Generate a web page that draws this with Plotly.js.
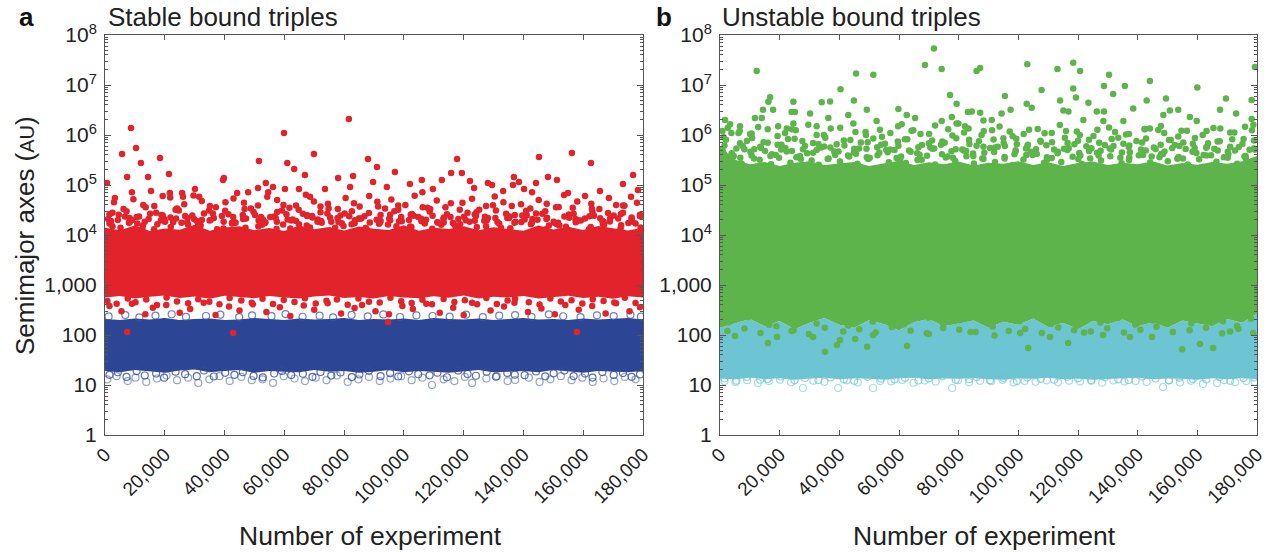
<!DOCTYPE html>
<html><head><meta charset="utf-8">
<script src="https://cdn.plot.ly/plotly-3.0.1.min.js"></script>
<style>html,body{margin:0;padding:0;background:#fff}#chart{width:1280px;height:554px}</style>
</head><body><div id="chart"></div>
<script>
// ---------- axis labels ----------
const xTickVals = [0,20000,40000,60000,80000,100000,120000,140000,160000,180000];
const xTickText = ['0','20,000','40,000','60,000','80,000','100,000','120,000','140,000','160,000','180,000'];
const yTickVals = [1,10,100,1000,1e4,1e5,1e6,1e7,1e8];
const yTickText = ['1','10','100','1,000','10<sup>4</sup>','10<sup>5</sup>','10<sup>6</sup>','10<sup>7</sup>','10<sup>8</sup>'];

// ---------- band edges (experiment number grid) ----------
const gridX = [0,5000,10000,15000,20000,25000,30000,35000,40000,45000,50000,55000,60000,65000,70000,75000,80000,85000,90000,95000,100000,105000,110000,115000,120000,125000,130000,135000,140000,145000,150000,155000,160000,165000,170000,175000,180000];
// panel a
const redUpper = [14000,12500,15500,12000,13500,12800,16000,12200,14200,15000,12400,13800,12000,15400,13000,14500,12300,14800,13400,12600,15600,12100,14000,13200,15000,12500,14300,13300,12200,15500,12900,14600,12600,15200,13700,12300,14000];
const redLower = [560,600,540,580,620,550,590,530,610,570,545,600,560,535,590,615,550,575,540,605,565,545,595,555,620,535,580,560,600,540,575,610,550,585,530,595,565];
const blueUpper = [210,200,215,205,220,200,210,215,200,205,220,210,200,215,205,210,220,200,210,205,215,200,220,210,205,215,200,210,220,205,210,200,215,205,210,220,205];
const blueLower = [19,18,20,18.5,17.5,19.5,20.5,18,19,20,17.5,19,18.5,18,20,18.5,19,17.5,18.5,20,18,19,18.5,17.5,19,20,18,18.5,19,18,20,18.5,17.5,19,18.5,18,19];
// panel b
const greenUpper = [600000,320000,260000,290000,240000,280000,300000,250000,270000,290000,240000,275000,305000,250000,285000,260000,295000,245000,280000,265000,300000,250000,285000,240000,275000,295000,250000,280000,260000,300000,245000,275000,255000,290000,265000,300000,380000];
const greenLower = [140,170,210,150,190,130,175,220,160,140,200,165,125,180,210,150,170,195,140,185,160,215,145,175,130,190,165,205,150,180,140,195,170,150,210,175,270];
const cyanLower = [13.5,13,14,13.2,13.6,12.8,13.5,14,13,13.6,13.3,12.8,13.6,14,13.1,13.5,13.3,13.8,13,12.8,13.6,13.3,14,13,13.5,12.8,13.3,13.6,14,13.1,13.5,13.3,12.8,13.6,13,13.8,13.2];

// ---------- individual points: stable (panel a) ----------
const redSparseX = [8700,5700,10400,12000,7400,18400,14400,21400,700,9000,15400,3300,21700,25800,26100,30100,31500,39500,39800,44200,47900,51200,51500,53800,54600,56200,59900,60200,61000,63300,69900,66900,64900,68600,73600,81600,88000,91000,83000,78000,82000,89700,97000,94300,102000,106000,106200,112700,109700,117800,115800,119400,122100,123500,128100,129500,133200,136800,136500,138500,140200,142900,144200,145200,148200,151200,156200,162600,165600,173300,176700,178300,154900,160600];
const redSparseY = [1380000,417000,550000,275000,145000,347000,145000,166000,110000,72000,76000,55000,69000,69000,58000,83000,58000,126000,138000,69000,72000,87000,302000,110000,72000,91000,1100000,83000,275000,209000,417000,158000,83000,58000,83000,2090000,331000,229000,151000,138000,91000,115000,182000,91000,105000,126000,72000,126000,83000,331000,174000,174000,120000,87000,110000,100000,76000,145000,100000,115000,83000,72000,110000,363000,145000,126000,437000,275000,76000,105000,158000,79000,69000,60000];
const redMidX = [3000,9500,16500,21800,26500,32400,37100,43000,46500,51200,57600,61700,69900,74600,80500,85200,91100,95800,100500,106300,111000,115700,122800,127500,133300,139200,145100,150900,158000,162700,168600,173300,178000];
const redMidY = [45000,52000,38000,56000,41000,48000,36000,54000,44000,39000,50000,35000,47000,42000,55000,37000,46000,51000,40000,36000,49000,43000,53000,38000,45000,41000,50000,36000,47000,42000,55000,39000,44000];
const redMid2X = [6200,12800,19300,24100,29600,34800,40300,48800,54300,59700,64800,67200,72100,77900,83300,88400,93700,98100,103600,108800,113900,119600,125200,130400,136100,142300,147800,153600,156500,165400,171000,176000];
const redMid2Y = [33000,40000,60000,34000,62000,31000,45000,34000,58000,40000,32000,64000,37000,33000,43000,60000,34000,39000,61000,33000,36000,44000,32000,59000,38000,34000,42000,63000,35000,33000,40000,58000];
const redDenseX = [1500,4300,7200,10600,13300,17100,19800,23600,26800,30700,33100,36400,40200,43300,46100,49700,52800,56600,59200,62300,66200,69400,72100,75700,78800,82600,85100,88300,92200,95400,98100,101700,104800,108600,111200,114400,118200,121300,124100,127700,130800,134600,137100,140400,144200,147300,150100,153700,156800,160600,163100,166400,170200,173300,176200,179000];
const redDenseY = [26000,20000,30000,23000,18500,28000,21000,32000,24000,19000,27000,22000,30500,18000,25000,29000,20500,23500,31000,19500,26500,22500,28500,18500,24500,30000,21500,27500,19000,25500,32000,20000,23000,29500,18000,26000,21000,28000,24000,19500,31000,22000,25000,20500,27000,30000,18500,23500,26500,21500,29000,19000,24500,28000,22500,25500];
const redEdgeX = [2500,8000,12500,17500,22000,27500,32000,37500,42500,47000,52500,57500,62000,67500,72500,77000,82500,87500,92000,97500,102500,107000,112500,117500,122000,127500,132500,137000,142500,147500,152000,157500,162500,167000,172500,177500];
const redEdgeY = [15000,17500,13500,16500,14500,18000,15500,13000,17000,14000,16000,18500,13500,15500,17500,14000,16500,13000,18000,15000,14500,17000,16000,13500,18500,15000,14000,17500,16500,13000,15500,18000,14500,16000,13500,17000];
const redRim1X = [1000,4600,8200,11400,15100,18700,21900,25600,29200,32400,36100,39700,42900,46600,50200,53400,57100,60700,63900,67600,71200,74400,78100,81700,84900,88600,92200,95400,99100,102700,105900,109600,113200,116400,120100,123700,126900,130600,134200,137400,141100,144700,147900,151600,155200,158400,162100,165700,168900,172600,176200,179400];
const redRim1Y = [21000,25500,18000,23500,26500,19500,22500,17500,24500,20000,27000,18500,23000,21500,25000,17200,22000,26000,19000,24000,20500,26800,18200,23800,21200,17800,25200,19800,22800,26200,18800,24200,20800,17400,23200,25800,19200,21800,26600,18400,24800,20200,22200,17600,25600,19600,23600,21600,18600,26400,20600,24600];
const redRim2X = [2000,6700,10800,14600,19300,22800,27600,31200,35300,39100,43700,47200,51400,55300,59600,62800,67700,71100,75300,79200,83600,86800,91700,95100,99300,103200,107400,111300,115600,118800,123700,127100,131300,135200,139600,142800,147700,151100,155300,159200,163600,166800,171700,175100,179000];
const redRim2Y = [19000,23500,17000,21000,24500,18000,22000,16500,20000,24000,17500,21500,19500,23000,16200,20500,24800,18500,22500,17200,19800,23800,16800,21200,18800,24200,20200,17800,22800,16400,19200,23200,18200,21800,24600,17600,20800,16600,22200,19600,24400,18400,21400,17400,23600];
const redRim3X = [2500,8200,13600,18900,24700,29800,35100,41300,46700,52200,57600,63900,69300,74800,80200,85700,91400,96800,102300,107900,113400,118700,124300,129800,135400,140900,146300,151800,157400,162900,168300,173800];
const redRim3Y = [28000,22000,36000,25000,31000,21000,38000,26000,33000,23000,29000,39000,24000,34000,27000,21500,37000,30000,25500,35000,22500,32000,28500,39500,23500,30500,26500,36500,21000,33500,27500,38500];
const redRim4X = [1500,5200,9100,12700,16400,20100,23800,27800,31300,35000,39600,42500,46200,51300,53700,57400,61100,64900,68600,72300,77800,79800,83500,87200,90900,94700,98400,102100,105800,109500,113300,117000,120700,124400,128100,131900,135600,139300,143000,148500,150500,154200,157900,161900,166600,169000,172700,176400,179200];
const redRim4Y = [17000,14000,20000,15500,13000,18500,21500,16000,14500,19500,13500,17500,21000,15000,18000,13200,20500,16500,14200,19000,22000,15200,17200,13800,20200,16200,18800,14800,21200,13400,17800,15800,19800,14400,21800,16800,13600,18200,20800,15400,17400,14600,19200,13100,16400,21400,15600,18600,14100];
const redFootX = [800,3900,7600,10200,13800,17400,20600,24100,27800,31200,34900,38300,41700,45600,49100,52700,56200,59800,63400,66900,70500,74100,77600,81200,84800,88300,91900,95500,99100,102600,106200,109400,113300,116900,120400,122800,127600,131100,134700,137200,141800,145400,149000,152500,156100,159700,163200,166800,170400,173900,177500];
const redFootY = [480,420,540,450,510,400,560,470,430,520,460,410,550,490,440,530,415,500,455,545,425,485,515,405,535,465,445,555,475,435,505,412,525,458,495,442,548,418,488,528,452,408,538,468,498,428,518,478,448,558,438];
const redLowX = [1500,5500,9000,13500,16000,20500,25000,28500,33000,37000,41500,45000,49500,54000,58500,62000,66500,70000,74500,79000,83500,86000,90500,95000,99500,103000,107500,112000,116500,120000,124500,129000,133500,137000,141500,146000,150500,154000,158500,163000,167500,171000,175500,179000];
const redLowY = [380,300,420,260,350,400,280,330,440,250,370,310,410,290,360,240,390,320,430,270,345,400,300,260,380,330,420,280,350,250,410,310,370,440,290,340,260,400,320,380,270,430,300,360];
const redStrayX = [7400,42900,157900,94700];
const redStrayY = [115,110,115,182];
const blueTopX = [1200,6800,11500,16900,22300,27100,33800,38600,44900,49200,55700,60400,66100,71800,76300,82500,87900,93100,98700,104200,109600,115300,120800,126400,131900,137200,142700,148500,153300,159100,164600,170200,175800,179300];
const blueTopY = [235,250,225,245,260,230,240,255,228,248,238,262,232,244,226,252,236,258,229,246,240,233,255,227,243,250,231,259,237,228,247,239,253,234];
const blueBotX = [800,3900,7600,10200,13800,17400,20600,24100,27800,31200,34900,38300,41700,45600,49100,52700,56200,59800,63400,66900,70500,74100,77600,81200,84800,88300,91900,95500,99100,102600,106200,109400,113300,116900,120400,122800,127600,131100,134700,137200,141800,145400,149000,152500,156100,159700,163200,166800,170400,173900,177500];
const blueBotY = [13,15,12,14,11.5,13.5,15.5,12.5,14,11,13,15,12,14.5,12.5,13,11,15,13.5,12,14,12.5,15.5,11.5,13,14.5,12,13.5,15,12.5,14,10,13,12,14.5,11,13.5,15,12,12.6,14,11.5,13,15,12.5,14,11.5,13.5,12,14.5,13];
const blueFringeX = [1500,4300,7200,10600,13300,17100,19800,23600,26800,30700,33100,36400,40200,43300,46100,49700,52800,56600,59200,62300,66200,69400,72100,75700,78800,82600,85100,88300,92200,95400,98100,101700,104800,108600,111200,114400,118200,121300,124100,127700,130800,134600,137100,140400,144200,147300,150100,153700,156800,160600,163100,166400,170200,173300,176200,179000];
const blueFringeY = [16,18,14.5,19,15.5,17,14,18.5,16.5,15,19.5,14.8,17.5,16,18,15.2,14.2,17,19,15.8,16.8,14.6,18.2,15.4,17.8,14.4,16.2,19.2,15,17.2,14.8,18.8,16.4,15.6,17.6,14.3,19.4,16.6,15.3,18.4,14.7,17.4,16.1,15.7,18.6,14.9,17.1,19.6,15.1,16.9,14.1,18.1,15.9,17.3,14.6,16.3];

// ---------- individual points: unstable (panel b) ----------
const greenSparseX = [12300,71700,68700,74300,45600,51400,40400,16800,16200,24600,34100,36900,44900,77100,83100,14400,17800,24000,25100,30200,49200,59800,65400,11700,14000,36300,43000,62600,77700,24600,32400,52500,44700,60900,74300,79300,6700,10600,19500,22400,1700,3400,103000,86000,87200,113100,118400,120700,130400,144100,160000,179300,107800,118400,119300,128700,135700,131800,95500,114000,123500,143000,149500,169600,178200,79300,97400,102800,104500,115100,116800,126300,128700,138500,150800,153600,167600,173000,84400,87200,94400,121800,128500,135200,148600,157500,159800,163100,79900,82100,91100,88300,144100,146900,178800,178200];
const greenSparseY = [1.9e7,5.4e7,2.5e7,2.1e7,1.7e7,1.6e7,8.2e6,5.7e6,4.6e6,4.6e6,4.5e6,4.7e6,4.9e6,6.3e6,2.9e6,3.2e6,3.2e6,2.9e6,2.9e6,2.7e6,3.2e6,3.3e6,2.2e6,2.2e6,2.2e6,2.2e6,2.5e6,2.5e6,2.3e6,1.7e6,1.5e6,1.9e6,1.7e6,1.65e6,1.9e6,1.7e6,1.5e6,1.07e6,1.5e6,1.35e6,2.0e6,1.65e6,2.6e7,1.9e7,2.2e7,2.1e7,2.8e7,1.9e7,1.6e7,1.2e7,8.9e6,2.3e7,7.9e6,8.5e6,5.6e6,9.5e6,9.5e6,6.6e6,6.0e6,4.9e6,4.4e6,4.9e6,5.4e6,5.4e6,5.0e6,4.2e6,3.2e6,4.2e6,3.5e6,3.1e6,2.95e6,2.95e6,2.95e6,3.4e6,3.1e6,3.2e6,3.2e6,2.7e6,2.95e6,2.8e6,2.7e6,2.0e6,1.9e6,1.9e6,2.5e6,2.3e6,1.9e6,1.2e6,1.7e6,1.5e6,2.0e6,1.95e6,1.35e6,1.26e6,1.6e6,2.1e6];
const greenHighX = [6600,10100,16000,21800,25400,32400,37100,45400,48900,53600,57100,64200,70100,76500,81800,87700,91200,97100,101800,106500,111200,116000,120600,126500,132400,137100,142400,148900,154700,161800,167700,172400,178300,800,2600,1200,3800];
const greenHighY = [1.2e6,1.05e6,1.3e6,1.1e6,1.25e6,1.0e6,1.35e6,1.15e6,1.0e6,1.28e6,1.1e6,1.22e6,1.05e6,1.3e6,1.12e6,1.0e6,1.25e6,1.18e6,1.05e6,1.32e6,1.1e6,1.2e6,1.0e6,1.28e6,1.15e6,1.05e6,1.3e6,1.1e6,1.22e6,1.0e6,1.35e6,1.12e6,1.25e6,1.2e6,1.4e6,9e5,1.1e6];
const greenMidX = [2000,6700,10800,14600,19300,22800,27600,31200,35300,39100,43700,47200,51400,55300,59600,62800,67700,71100,75300,79200,83600,86800,91700,95100,99300,103200,107400,111300,115600,118800,123700,127100,131300,135200,139600,142800,147700,151100,155300,159200,163600,166800,171700,175100,179000];
const greenMidY = [800000,680000,870000,720000,640000,830000,760000,690000,880000,650000,790000,710000,850000,670000,740000,820000,630000,780000,700000,860000,660000,750000,810000,690000,840000,640000,770000,720000,880000,650000,800000,700000,830000,670000,760000,850000,640000,790000,710000,870000,680000,740000,820000,660000,780000];
const greenLowX = [1000,4600,8200,11400,15100,18700,21900,25600,29200,32400,36100,39700,42900,46600,50200,53400,57100,60700,63900,67600,71200,74400,78100,81700,84900,88600,92200,95400,99100,102700,105900,109600,113200,116400,120100,123700,126900,130600,134200,137400,141100,144700,147900,151600,155200,158400,162100,165700,168900,172600,176200,179400];
const greenLowY = [450000,380000,520000,340000,480000,400000,550000,360000,430000,500000,330000,470000,390000,540000,350000,440000,510000,370000,460000,320000,530000,410000,350000,490000,380000,440000,560000,340000,470000,400000,520000,360000,430000,500000,330000,480000,390000,540000,350000,450000,510000,370000,420000,550000,340000,460000,400000,530000,360000,490000,380000,520000];
const greenRim1X = [1500,4300,7200,10600,13300,17100,19800,23600,26800,30700,33100,36400,40200,43300,46100,49700,52800,56600,59200,62300,66200,69400,72100,75700,78800,82600,85100,88300,92200,95400,98100,101700,104800,108600,111200,114400,118200,121300,124100,127700,130800,134600,137100,140400,144200,147300,150100,153700,156800,160600,163100,166400,170200,173300,176200,179000];
const greenRim1Y = [300000,360000,270000,390000,320000,260000,350000,280000,380000,310000,255000,340000,295000,370000,265000,330000,395000,285000,345000,275000,315000,385000,258000,355000,305000,375000,268000,335000,290000,365000,252000,325000,398000,278000,348000,288000,368000,262000,338000,308000,378000,272000,318000,392000,282000,358000,298000,362000,256000,328000,388000,292000,352000,266000,342000,302000];
const greenRim2X = [800,3900,7600,10200,13800,17400,20600,24100,27800,31200,34900,38300,41700,45600,49100,52700,56200,59800,63400,66900,70500,74100,77600,81200,84800,88300,91900,95500,99100,102600,106200,109400,113300,116900,120400,122800,127600,131100,134700,137200,141800,145400,149000,152500,156100,159700,163200,166800,170400,173900,177500];
const greenRim2Y = [500000,430000,600000,460000,550000,410000,640000,480000,520000,440000,590000,470000,620000,420000,530000,570000,450000,610000,490000,405000,560000,635000,475000,515000,425000,580000,455000,605000,495000,540000,415000,625000,465000,545000,435000,595000,485000,510000,445000,615000,400000,565000,470000,630000,525000,438000,585000,492000,418000,575000,505000];
const greenRim3X = [1500,5500,9000,13500,16000,20500,25000,28500,33000,37000,41500,45000,49500,54000,58500,62000,66500,70000,74500,79000,83500,86000,90500,95000,99500,103000,107500,112000,116500,120000,124500,129000,133500,137000,141500,146000,150500,154000,158500,163000,167500,171000,175500,179000];
const greenRim3Y = [620000,540000,760000,580000,700000,510000,840000,600000,660000,560000,780000,530000,720000,640000,500000,820000,570000,680000,740000,520000,800000,610000,550000,860000,650000,590000,730000,515000,690000,770000,545000,630000,880000,575000,710000,525000,790000,605000,670000,555000,750000,585000,830000,535000];
const greenRim4X = [1200,6800,11500,16900,22300,27100,33800,38600,44900,49200,55700,60400,66100,71800,76300,82500,87900,93100,98700,104200,109600,115300,120800,126400,131900,137200,142700,148500,153300,159100,164600,170200,175800,179300];
const greenRim4Y = [420000,350000,520000,380000,470000,330000,560000,400000,450000,360000,500000,310000,430000,540000,370000,480000,340000,580000,410000,460000,320000,530000,390000,440000,600000,355000,490000,415000,335000,550000,395000,465000,375000,510000];
const greenRim5X = [6200,12800,19300,24100,29600,34800,40300,48800,54300,59700,64800,67200,72100,77900,83300,88400,93700,98100,103600,108800,113900,119600,125200,130400,136100,142300,147800,153600,156500,165400,171000,176000];
const greenRim5Y = [1.1e6,1.45e6,9.5e5,1.3e6,1.6e6,1.0e6,1.4e6,1.15e6,9.2e5,1.5e6,1.25e6,1.05e6,1.55e6,9.8e5,1.35e6,1.2e6,1.48e6,9.4e5,1.28e6,1.08e6,1.58e6,1.18e6,9.6e5,1.42e6,1.02e6,1.32e6,1.52e6,9.3e5,1.22e6,1.38e6,1.12e6,1.46e6];
const greenFootX = [3000,9500,16500,21800,26500,32400,37100,43000,46500,51200,57600,61700,69900,74600,80500,85200,91100,95800,100500,106300,111000,115700,122800,127500,133300,139200,145100,150900,158000,162700,168600,173300,178000];
const greenFootY = [180,230,160,250,195,170,240,155,210,185,260,165,225,175,200,245,158,215,190,235,168,205,255,178,220,162,198,242,172,228,188,152,212];
const greenEdgeX = [2500,8200,13600,18900,24700,29800,35100,41300,46700,52200,57600,63900,69300,74800,80200,85700,91400,96800,102300,107900,113400,118700,124300,129800,135400,140900,146300,151800,157400,162900,168300,173800];
const greenEdgeY = [120,135,110,150,125,105,140,118,130,112,145,122,108,138,128,115,148,120,132,110,142,125,118,136,112,128,146,115,124,140,108,132];
const greenDeepX = [16100,19100,35200,39200,40200,45300,49300,62700,51300,31200,103300,116700,100600,154900,160900,165300,110600,137400,144800,128400,178700,5000,24000,70000,84000,92000,122000,171000];
const greenDeepY = [69,91,46,63,79,83,58,60,100,91,55,69,110,52,66,55,91,91,91,100,110,95,120,105,115,98,112,118];
const cyanBotX = [1500,5200,9100,12700,16400,20100,23800,27800,31300,35000,39600,42500,46200,51300,53700,57400,61100,64900,68600,72300,77800,79800,83500,87200,90900,94700,98400,102100,105800,109500,113300,117000,120700,124400,128100,131900,135600,139300,143000,148500,150500,154200,157900,161900,166600,169000,172700,176400,179200];
const cyanBotY = [12,11.5,12.5,11,12,12.8,11.3,8.7,12.2,11.6,8.7,12.4,11.2,8.7,12,11.8,12.6,11.1,12.3,11.7,8.7,12.5,11.4,12.1,11.9,12.7,11.2,12,11.6,12.4,11.3,12.2,11.8,12.6,11.1,12.3,11.7,12,11.5,9.1,12.4,11.2,12.1,10.5,11,12.5,11.4,12,11.6];
const cyanFringeX = [1500,5500,9000,13500,16000,20500,25000,28500,33000,37000,41500,45000,49500,54000,58500,62000,66500,70000,74500,79000,83500,86000,90500,95000,99500,103000,107500,112000,116500,120000,124500,129000,133500,137000,141500,146000,150500,154000,158500,163000,167500,171000,175500,179000];
const cyanFringeY = [13.5,12.2,14.5,12.8,13.2,14.8,12.4,13.8,12.6,14.2,13,12.1,14.6,13.4,12.9,14,12.3,13.6,14.9,12.7,13.1,14.4,12.5,13.9,12,14.1,13.3,12.8,14.7,13.7,12.2,14.3,13,12.6,14.8,13.5,12.4,14,13.2,12.9,14.5,12.1,13.8,14.2];

// ---------- styling ----------
const RED = '#e2232b', BLUE = '#2c4594', GREEN = '#5db44b', CYAN = '#6dc4d3';
const FONT = 'Liberation Sans, Arial, Helvetica, sans-serif';

function band(upper, lower, color, xa, ya) {
  return {x: gridX.concat(gridX.slice().reverse()), y: upper.concat(lower.slice().reverse()),
    type:'scatter', mode:'lines', fill:'toself', fillcolor: color, line:{width:0, color: color},
    xaxis: xa, yaxis: ya, hoverinfo:'skip', showlegend:false};
}
function dots(xs, ys, color, xa, ya) {
  return {x: xs, y: ys, type:'scatter', mode:'markers', marker:{size:6.5, color: color, line:{width:0}},
    xaxis: xa, yaxis: ya, hoverinfo:'skip', showlegend:false};
}
function rings(xs, ys, color, xa, ya) {
  return {x: xs, y: ys, type:'scatter', mode:'markers', marker:{size:7, symbol:'circle-open', color: color, line:{width:1.2, color: color}},
    xaxis: xa, yaxis: ya, hoverinfo:'skip', showlegend:false};
}

const traces = [
  band(blueUpper, blueLower, BLUE, 'x', 'y'),
  rings(blueTopX, blueTopY, 'rgba(60,85,165,0.75)', 'x', 'y'),
  rings(blueFringeX, blueFringeY, 'rgba(50,75,155,0.8)', 'x', 'y'),
  rings(blueBotX, blueBotY, 'rgba(60,85,165,0.55)', 'x', 'y'),
  band(redUpper, redLower, RED, 'x', 'y'),
  dots(redSparseX, redSparseY, RED, 'x', 'y'),
  dots(redMidX, redMidY, RED, 'x', 'y'),
  dots(redMid2X, redMid2Y, RED, 'x', 'y'),
  dots(redDenseX, redDenseY, RED, 'x', 'y'),
  dots(redEdgeX, redEdgeY, RED, 'x', 'y'),
  dots(redRim1X, redRim1Y, RED, 'x', 'y'),
  dots(redRim2X, redRim2Y, RED, 'x', 'y'),
  dots(redRim3X, redRim3Y, RED, 'x', 'y'),
  dots(redRim4X, redRim4Y, RED, 'x', 'y'),
  dots(redFootX, redFootY, RED, 'x', 'y'),
  dots(redLowX, redLowY, RED, 'x', 'y'),
  dots(redStrayX, redStrayY, RED, 'x', 'y'),

  band(greenLower, cyanLower, CYAN, 'x2', 'y2'),
  rings(cyanFringeX, cyanFringeY, 'rgba(110,196,211,0.75)', 'x2', 'y2'),
  rings(cyanBotX, cyanBotY, 'rgba(110,196,211,0.6)', 'x2', 'y2'),
  band(greenUpper, greenLower, GREEN, 'x2', 'y2'),
  dots(greenSparseX, greenSparseY, GREEN, 'x2', 'y2'),
  dots(greenHighX, greenHighY, GREEN, 'x2', 'y2'),
  dots(greenMidX, greenMidY, GREEN, 'x2', 'y2'),
  dots(greenLowX, greenLowY, GREEN, 'x2', 'y2'),
  dots(greenRim1X, greenRim1Y, GREEN, 'x2', 'y2'),
  dots(greenRim2X, greenRim2Y, GREEN, 'x2', 'y2'),
  dots(greenRim3X, greenRim3Y, GREEN, 'x2', 'y2'),
  dots(greenRim4X, greenRim4Y, GREEN, 'x2', 'y2'),
  dots(greenRim5X, greenRim5Y, GREEN, 'x2', 'y2'),
  dots(greenFootX, greenFootY, GREEN, 'x2', 'y2'),
  dots(greenEdgeX, greenEdgeY, GREEN, 'x2', 'y2'),
  dots(greenDeepX, greenDeepY, GREEN, 'x2', 'y2')
];

const minorVals = [];
for (let k = 0; k < 8; k++) for (let m = 2; m <= 9; m++) minorVals.push(m * Math.pow(10, k));

function xAxis(domain, anchor) {
  return {domain: domain, anchor: anchor, range:[0,180000], tickmode:'array', tickvals:xTickVals, ticktext:xTickText,
    tickangle:-45, ticks:'inside', ticklen:5, tickwidth:1, tickcolor:'#555', showline:true, linecolor:'#555', linewidth:1,
    mirror:'ticks', showgrid:false, zeroline:false, tickfont:{family:FONT, size:19, color:'#222'}, fixedrange:true};
}
function yAxis(anchor) {
  return {anchor: anchor, type:'log', range:[0,8], tickmode:'array', tickvals:yTickVals, ticktext:yTickText,
    ticks:'inside', ticklen:6, tickwidth:1, tickcolor:'#555', showline:true, linecolor:'#555', linewidth:1,
    mirror:'ticks', showgrid:false, zeroline:false, tickfont:{family:FONT, size:21, color:'#222'},
    ticklabelstandoff:3,
    minor:{tickmode:'array', tickvals:minorVals, ticks:'inside', ticklen:3, tickcolor:'#555', showgrid:false},
    fixedrange:true};
}

const P = px => px / 1280;
const Q = py => (435 - py) / 400;

const layout = {
  width:1280, height:554, margin:{l:0, r:0, t:35, b:119}, paper_bgcolor:'#fff', plot_bgcolor:'#fff',
  showlegend:false, font:{family:FONT, color:'#222'},
  xaxis: xAxis([105/1280, 643/1280], 'y'),
  yaxis: yAxis('x'),
  xaxis2: xAxis([720/1280, 1257/1280], 'y2'),
  yaxis2: yAxis('x2'),
  annotations: [
    {text:'<b>a</b>', x:P(26), y:Q(17), xref:'paper', yref:'paper', showarrow:false, xanchor:'center', yanchor:'middle', font:{family:FONT, size:26, color:'#111'}},
    {text:'Stable bound triples', x:P(106), y:Q(17), xref:'paper', yref:'paper', showarrow:false, xanchor:'left', yanchor:'middle', font:{family:FONT, size:26, color:'#222'}},
    {text:'<b>b</b>', x:P(664), y:Q(17), xref:'paper', yref:'paper', showarrow:false, xanchor:'center', yanchor:'middle', font:{family:FONT, size:26, color:'#111'}},
    {text:'Unstable bound triples', x:P(720), y:Q(17), xref:'paper', yref:'paper', showarrow:false, xanchor:'left', yanchor:'middle', font:{family:FONT, size:26, color:'#222'}},
    {text:'Semimajor axes (<span style="font-size:20px">AU</span>)', x:P(25), y:Q(236), xref:'paper', yref:'paper', showarrow:false, textangle:-90, xanchor:'center', yanchor:'middle', font:{family:FONT, size:26, color:'#222'}},
    {text:'Number of experiment', x:P(370), y:Q(536), xref:'paper', yref:'paper', showarrow:false, xanchor:'center', yanchor:'middle', font:{family:FONT, size:26.5, color:'#222'}},
    {text:'Number of experiment', x:P(984), y:Q(536), xref:'paper', yref:'paper', showarrow:false, xanchor:'center', yanchor:'middle', font:{family:FONT, size:26.5, color:'#222'}}
  ]
};

Plotly.newPlot('chart', traces, layout, {staticPlot:true, displayModeBar:false});
</script>
</body></html>
